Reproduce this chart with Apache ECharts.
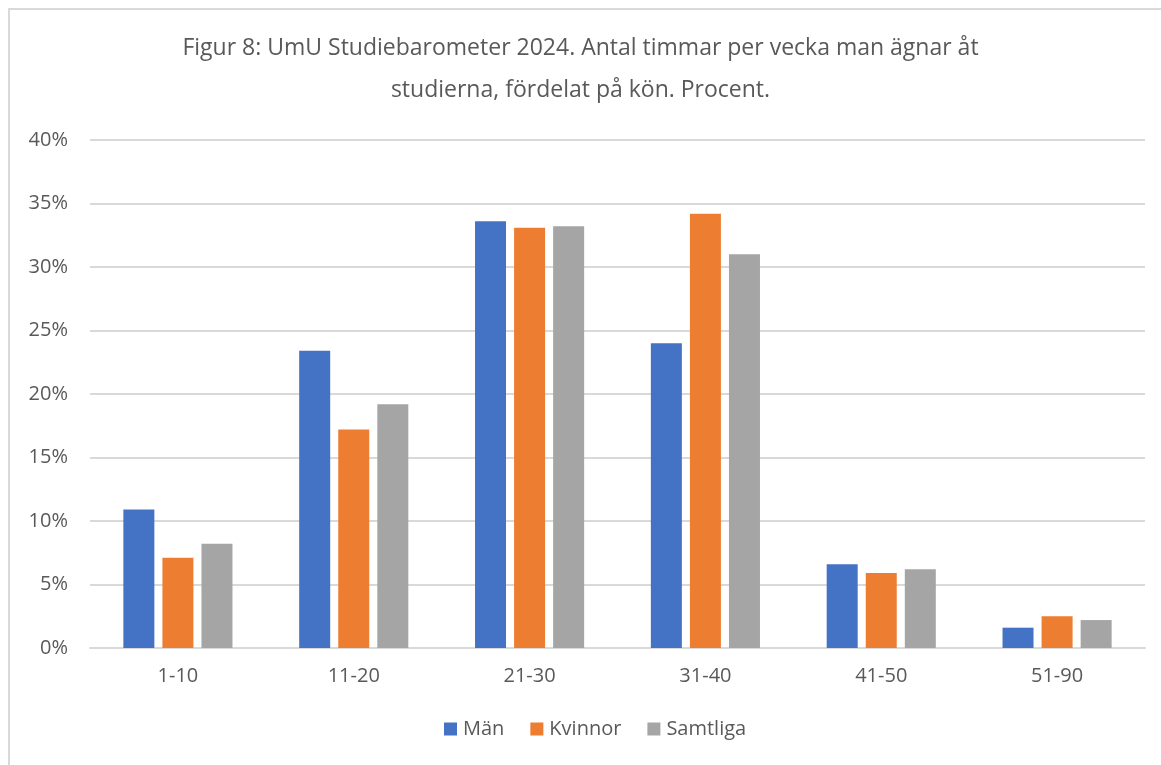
<!DOCTYPE html>
<html>
<head>
  <meta charset="UTF-8">
  <title>Figur 8: UmU Studiebarometer 2024</title>
  <script src="https://cdn.jsdelivr.net/npm/echarts/dist/echarts.min.js"></script>
  <style>
    html, body { margin: 0; padding: 0; background: #fff; }
    #frame {
      position: absolute; left: 8px; top: 8px; width: 1170px; height: 780px;
      border: 2px solid #d9d9d9; box-sizing: border-box;
    }
    #chart { position: absolute; left: 0; top: 0; width: 1161px; height: 765px; }
  </style>
</head>
<body>
<div id="frame"></div>
<div id="chart"></div>
<script>
  // hours per week spent on studies, by gender (percent)
  var categories = ['1-10', '11-20', '21-30', '31-40', '41-50', '51-90'];
  var man      = [10.9, 23.4, 33.6, 24.0, 6.6, 1.6];
  var kvinnor  = [7.1, 17.2, 33.1, 34.2, 5.9, 2.5];
  var samtliga = [8.2, 19.2, 33.2, 31.0, 6.2, 2.2];

  var font = 'Open Sans';
  var textColor = '#595959';

  var myChart = echarts.init(document.getElementById('chart'));

  function barSeries(name, data, color) {
    return {
      name: name,
      type: 'bar',
      data: data,
      barWidth: 31,
      barGap: '26%',
      itemStyle: { color: color },
      emphasis: { disabled: true }
    };
  }

  var option = {
    animation: false,
    title: {
      text: 'Figur 8: UmU Studiebarometer 2024. Antal timmar per vecka man ägnar åt\nstudierna, fördelat på kön. Procent.',
      left: 'center',
      top: 22,
      textStyle: {
        fontFamily: font,
        fontSize: 23,
        fontWeight: 'normal',
        color: textColor,
        lineHeight: 42
      }
    },
    legend: {
      bottom: 21,
      left: 439,
      itemWidth: 13,
      itemHeight: 13,
      itemGap: 26,
      icon: 'rect',
      textStyle: { fontFamily: font, fontSize: 20, color: textColor, padding: [0, 0, 0, 1] }
    },
    grid: { left: 90, right: 16, top: 140, bottom: 117 },
    xAxis: {
      type: 'category',
      data: categories,
      axisTick: { show: false },
      axisLine: { lineStyle: { color: '#d9d9d9', width: 2 } },
      axisLabel: { fontFamily: font, fontSize: 20, color: textColor, margin: 18 }
    },
    yAxis: {
      type: 'value',
      min: 0,
      max: 40,
      interval: 5,
      axisLine: { show: false },
      axisTick: { show: false },
      splitLine: { lineStyle: { color: '#d9d9d9', width: 2 } },
      axisLabel: {
        fontFamily: font, fontSize: 20, color: textColor, margin: 22,
        formatter: function (v) { return v + '%'; }
      }
    },
    series: [
      barSeries('Män', man, '#4472c4'),
      barSeries('Kvinnor', kvinnor, '#ed7d31'),
      barSeries('Samtliga', samtliga, '#a5a5a5')
    ]
  };

  myChart.setOption(option);
</script>
</body>
</html>
